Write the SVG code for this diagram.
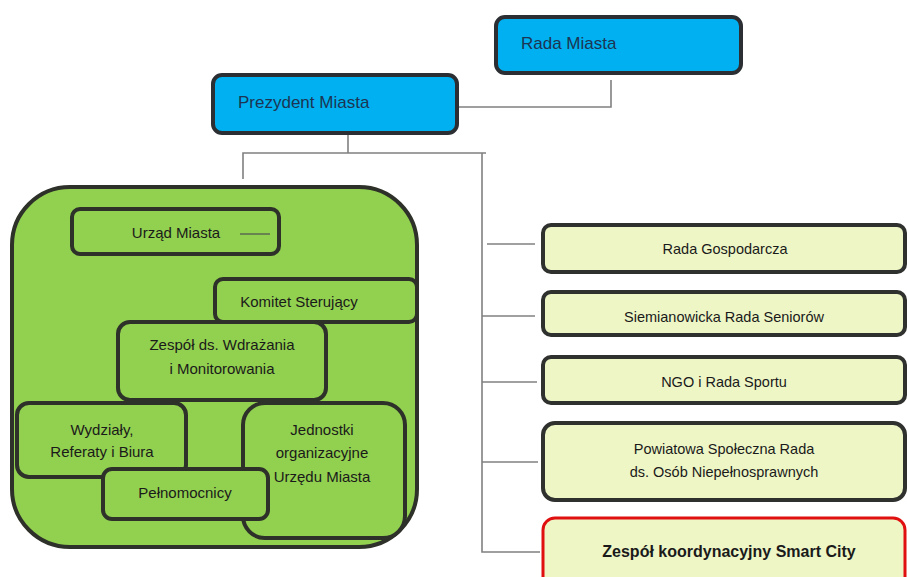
<svg xmlns="http://www.w3.org/2000/svg" width="907" height="577" viewBox="0 0 907 577">
<style>
.blue{fill:#00b0f0;stroke:#2b2f33;stroke-width:4}
.green{fill:#92d050;stroke:#2e3129;stroke-width:4}
.light{fill:#eef6c6;stroke:#2f312f;stroke-width:4}
.red{fill:#eef6c6;stroke:#e01010;stroke-width:3}
.conn{fill:none;stroke:#808080;stroke-width:1.6}
.tb{font-family:"Liberation Sans",Arial,sans-serif;font-size:17px;fill:#1c3553}
.tg{font-family:"Liberation Sans",Arial,sans-serif;font-size:15px;fill:#1a1a1a;text-anchor:middle}
.tr{font-family:"Liberation Sans",Arial,sans-serif;font-size:14.5px;fill:#1a1a1a;text-anchor:middle}
.trb{font-family:"Liberation Sans",Arial,sans-serif;font-size:16px;font-weight:bold;fill:#1a1a1a;text-anchor:middle}
</style>
<rect width="907" height="577" fill="#ffffff"/>
<g id="connectors">
<polyline class="conn" points="459,107 611,107 611,80"/>
<line class="conn" x1="348" y1="134" x2="348" y2="153"/>
<polyline class="conn" points="243,179 243,153 486,153"/>
<polyline class="conn" points="482,153 482,552 540,552"/>
<line class="conn" x1="487" y1="244" x2="535" y2="244"/>
<line class="conn" x1="482" y1="316" x2="535" y2="316"/>
<line class="conn" x1="482" y1="382" x2="537" y2="382"/>
<line class="conn" x1="482" y1="462" x2="538" y2="462"/>
</g>
<g id="rada-miasta">
<rect class="blue" x="496" y="17" width="245" height="56" rx="9"/>
<text class="tb" x="521" y="49">Rada Miasta</text>
</g>
<g id="prezydent-miasta">
<rect class="blue" x="213" y="75" width="244" height="58" rx="9"/>
<text class="tb" x="238" y="108">Prezydent Miasta</text>
</g>
<g id="grupa-urzad">
<rect class="green" x="12" y="187" width="405" height="360" rx="58"/>
</g>
<g id="urzad-miasta">
<rect class="green" x="72" y="209" width="207" height="45" rx="8"/>
<text class="tg" x="176" y="238">Urząd Miasta</text>
<line x1="240" y1="234" x2="270" y2="234" stroke="#5a6a50" stroke-width="1.5"/>
</g>
<g id="komitet-sterujacy">
<rect class="green" x="215" y="279" width="202" height="43" rx="8"/>
<text class="tg" x="299" y="307">Komitet Sterujący</text>
</g>
<g id="zespol-wdrazania">
<rect class="green" x="118" y="322" width="208" height="78" rx="12"/>
<text class="tg" x="222" y="350">Zespół ds. Wdrażania</text>
<text class="tg" x="222" y="374">i Monitorowania</text>
</g>
<g id="wydzialy">
<rect class="green" x="17" y="403" width="169" height="74" rx="12"/>
<text class="tg" x="102" y="435">Wydziały,</text>
<text class="tg" x="102" y="457">Referaty i Biura</text>
</g>
<g id="jednostki">
<rect class="green" x="243" y="403" width="162" height="135" rx="22"/>
<text class="tg" x="322" y="435">Jednostki</text>
<text class="tg" x="322" y="458">organizacyjne</text>
<text class="tg" x="322" y="482">Urzędu Miasta</text>
</g>
<g id="pelnomocnicy">
<rect class="green" x="103" y="469" width="165" height="50" rx="9"/>
<text class="tg" x="185" y="498">Pełnomocnicy</text>
</g>
<g id="rada-gospodarcza">
<rect class="light" x="543" y="225" width="362" height="47" rx="8"/>
<text class="tr" x="725" y="254">Rada Gospodarcza</text>
</g>
<g id="rada-seniorow">
<rect class="light" x="543" y="292" width="362" height="43" rx="8"/>
<text class="tr" x="724" y="322">Siemianowicka Rada Seniorów</text>
</g>
<g id="ngo-rada-sportu">
<rect class="light" x="543" y="357" width="362" height="46" rx="8"/>
<text class="tr" x="724" y="387">NGO i Rada Sportu</text>
</g>
<g id="powiatowa-rada">
<rect class="light" x="543" y="423" width="362" height="77" rx="12"/>
<text class="tr" x="724" y="454">Powiatowa Społeczna Rada</text>
<text class="tr" x="724" y="477">ds. Osób Niepełnosprawnych</text>
</g>
<g id="smart-city">
<rect class="red" x="543" y="518" width="362" height="80" rx="12"/>
<text class="trb" x="729" y="557">Zespół koordynacyjny Smart City</text>
</g>
</svg>
